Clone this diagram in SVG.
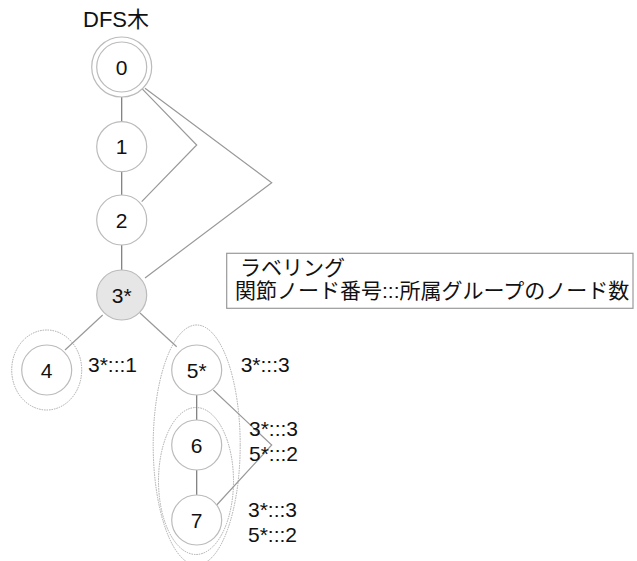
<svg xmlns="http://www.w3.org/2000/svg" width="637" height="561" viewBox="0 0 637 561">
<style>
text{font-family:"Liberation Sans","Noto Sans CJK JP",Arial,sans-serif;fill:#111;}
.n{fill:#fff;stroke:#bbb;stroke-width:1.2;}
.g{fill:none;stroke:#aaa;stroke-width:1;stroke-dasharray:1.5,1;}
.t{stroke:#777;stroke-width:1.2;fill:none;}
.b{stroke:#999;stroke-width:1.2;fill:none;}
.lab{font-size:21px;text-anchor:middle;}
.lbl{font-size:21px;}
</style>
<rect width="637" height="561" fill="#fff"/>
<text x="83" y="27" style="font-size:22px">DFS木</text>
<g id="groups">
<ellipse class="g" cx="46.7" cy="370" rx="35" ry="40"/>
<ellipse class="g" cx="196.7" cy="445" rx="43.5" ry="120"/>
<ellipse class="g" cx="196" cy="481" rx="37.5" ry="73.5"/>
</g>
<g id="connectors">
<line class="t" x1="121.7" y1="97" x2="121.7" y2="122"/>
<line class="t" x1="121.7" y1="171.7" x2="121.7" y2="195"/>
<line class="t" x1="121.7" y1="245" x2="121.7" y2="271"/>
<line class="b" x1="102.7" y1="315" x2="65" y2="350"/>
<line class="b" x1="140" y1="313" x2="176.7" y2="346.7"/>
<line class="t" x1="196.7" y1="395" x2="196.7" y2="420"/>
<line class="t" x1="196.7" y1="470" x2="196.7" y2="495"/>
<polyline class="b" points="141.7,88.3 196.7,145 141.7,201.7"/>
<polyline class="b" points="145,88.3 271.7,182.7 145,278"/>
<polyline class="b" points="213.3,390 271.7,445 216.7,505"/>
</g>
<g id="node0">
<circle class="n" cx="121.7" cy="67" r="30"/>
<circle class="n" cx="121.7" cy="67" r="25"/>
<text class="lab" x="121.7" y="74.5">0</text>
</g>
<g id="node1">
<circle class="n" cx="121.7" cy="146.7" r="25"/>
<text class="lab" x="121.7" y="154.2">1</text>
</g>
<g id="node2">
<circle class="n" cx="121.7" cy="220" r="25"/>
<text class="lab" x="121.7" y="227.5">2</text>
</g>
<g id="node3">
<circle class="n" cx="121.7" cy="295" r="25" style="fill:#e6e6e6"/>
<text class="lab" x="121.7" y="302.5">3*</text>
</g>
<g id="node4">
<circle class="n" cx="46.7" cy="370" r="25"/>
<text class="lab" x="46.7" y="377.5">4</text>
</g>
<g id="node5">
<circle class="n" cx="196.7" cy="370" r="25"/>
<text class="lab" x="196.7" y="377.5">5*</text>
</g>
<g id="node6">
<circle class="n" cx="196.7" cy="445" r="25"/>
<text class="lab" x="196.7" y="452.5">6</text>
</g>
<g id="node7">
<circle class="n" cx="196.7" cy="520" r="25"/>
<text class="lab" x="196.7" y="527.5">7</text>
</g>
<g id="labels">
<text class="lbl" x="88" y="371.5">3*:::1</text>
<text class="lbl" x="240.7" y="371.5">3*:::3</text>
<text class="lbl" x="249" y="435.5">3*:::3</text>
<text class="lbl" x="249" y="461">5*:::2</text>
<text class="lbl" x="248" y="517">3*:::3</text>
<text class="lbl" x="248" y="542">5*:::2</text>
</g>
<g id="legend">
<rect x="226.7" y="253.3" width="406.3" height="55" fill="#fff" stroke="#999" stroke-width="1.2"/>
<text x="240" y="275" style="font-size:21px">ラベリング</text>
<text x="235" y="297.5" style="font-size:21px">関節ノード番号:::所属グループのノード数</text>
</g>
</svg>
